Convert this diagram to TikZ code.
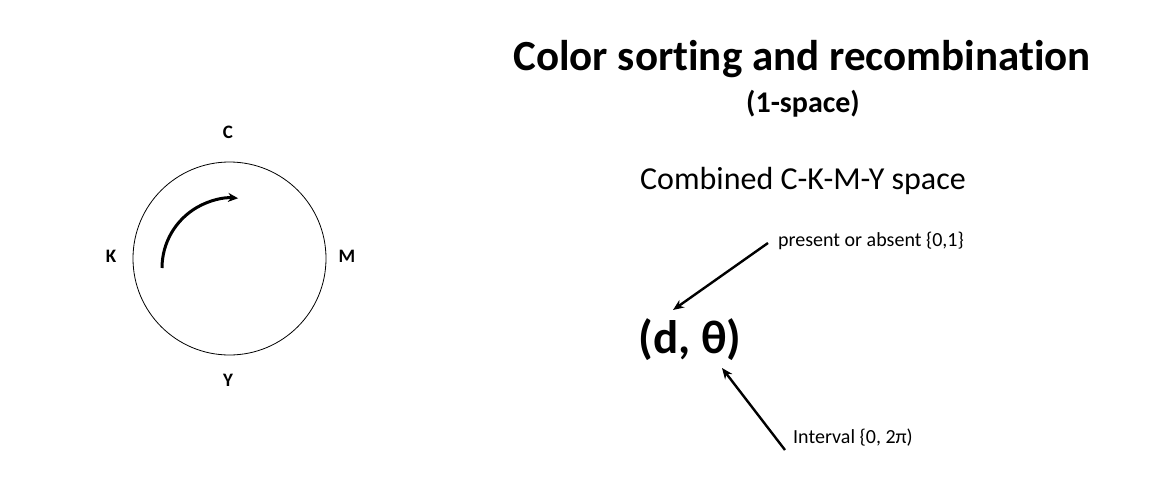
\documentclass[tikz,border=0pt]{standalone}
\usepackage{fontspec}
\setmainfont{Carlito}[Ligatures=NoCommon]
\usetikzlibrary{arrows.meta}
\begin{document}
\begin{tikzpicture}[x=1pt,y=-1pt,
  axislabel/.style={font=\fontsize{19}{22}\selectfont\bfseries, inner sep=0pt},
  note/.style={font=\fontsize{20}{24}\selectfont, inner sep=0pt},
  pointer/.style={line width=2.4pt, -{Stealth[length=11pt,width=9pt]}}
]
\useasboundingbox[fill=white] (0,0) rectangle (1152,480);

% colour wheel
\node[draw, circle, line width=0.8pt, minimum size=193pt, inner sep=0pt] (wheel) at (229.5,258.5) {};
\node[axislabel] (C) at (228,132) {C};
\node[axislabel] (K) at (111,256) {K};
\node[axislabel] (M) at (347,256) {M};
\node[axislabel] (Y) at (228,380) {Y};

% direction of rotation (y axis points down, so angles run clockwise)
\coordinate (arcstart) at (162,268);
\draw[line width=3pt, -{Stealth[length=10pt,width=9pt]}] (arcstart) arc[start angle=180, end angle=275, radius=70];

% titles
\node[font=\fontsize{43}{50}\selectfont\bfseries, inner sep=0pt] (title) at (802,59) {Color sorting and recombination};
\node[font=\fontsize{30}{35}\selectfont\bfseries, inner sep=0pt] (sub) at (803,104) {(1-space)};
\node[font=\fontsize{32}{38}\selectfont, inner sep=0pt] (space) at (803,181) {Combined C-K-M-Y space};

% coordinate pair and its annotations
\node[font=\fontsize{47}{54}\selectfont\bfseries, inner sep=0pt] (pair) at (690,340) {(d, θ)};
\node[note, anchor=west] (present) at (778,241) {present or absent \{0,1\}};
\node[note, anchor=west] (interval) at (793,438) {Interval \{0, 2π)};

\coordinate (ptail) at (768,243);
\coordinate (phead) at (673,310);
\coordinate (itail) at (785,450);
\coordinate (ihead) at (722,368);
\draw[pointer] (ptail) -- (phead);
\draw[pointer] (itail) -- (ihead);
\end{tikzpicture}
\end{document}
